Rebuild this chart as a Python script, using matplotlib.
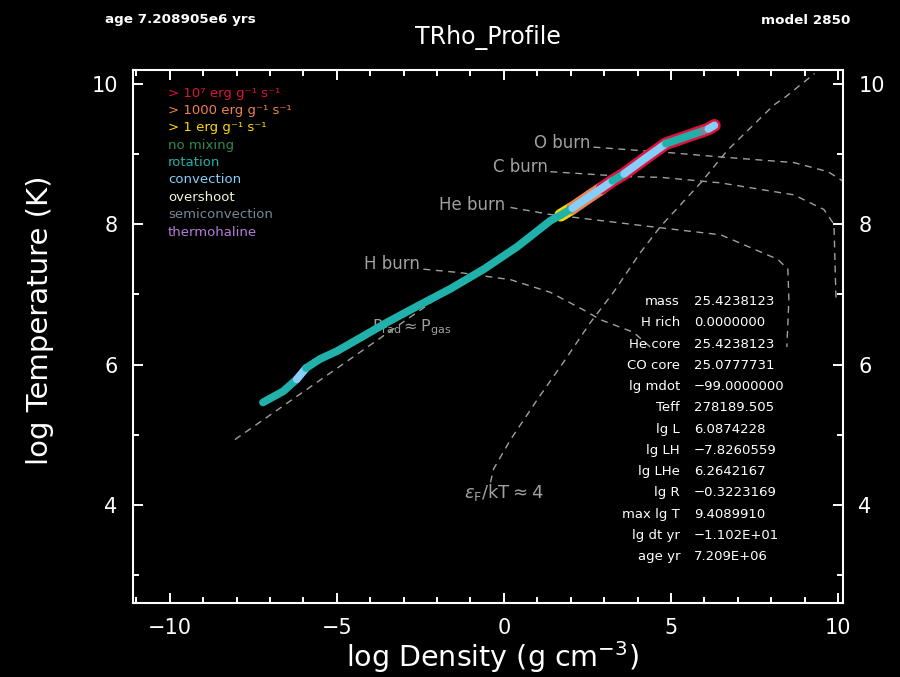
import numpy as np
import matplotlib
matplotlib.use('Agg')
import matplotlib.pyplot as plt
from matplotlib.ticker import MultipleLocator

# ---------------- data ----------------
# stellar profile (log Rho, log T); mix / burn describe the segment starting at each point
prof_logRho = [-7.21, -6.60, -6.20, -5.92, -5.50, -5.00, -4.30, -3.50, -2.60, -1.60,
               -0.60, 0.40, 1.39, 1.70, 2.05, 2.60, 2.95, 3.25, 3.60, 4.20,
               4.85, 5.40, 5.95, 6.12, 6.30]
prof_logT = [5.46, 5.62, 5.79, 5.95, 6.08, 6.19, 6.38, 6.60, 6.83, 7.08,
             7.36, 7.68, 8.05, 8.13, 8.23, 8.41, 8.52, 8.62, 8.72, 8.93,
             9.15, 9.24, 9.33, 9.36, 9.41]
prof_mix = ['rot', 'rot', 'conv', 'rot', 'rot', 'rot', 'rot', 'rot', 'rot', 'rot',
            'rot', 'rot', 'rot', 'rot', 'conv', 'conv', 'conv', 'rot', 'conv', 'conv',
            'rot', 'rot', 'semi', 'conv', 'conv']
prof_burn = [0, 0, 0, 0, 0, 0, 0, 0, 0, 0,
             0, 0, 0, 1, 2, 2, 3, 3, 3, 3,
             3, 3, 3, 3, 3]

# reference lines
prad_logRho = [-8.05, -1.80]
prad_logT = [4.93, 7.01]

ef_logRho = [-0.40, -0.31, 0.20, 1.00, 1.78, 2.59, 3.28, 4.09, 4.69, 5.89, 6.70, 8.08, 8.44, 9.30]
ef_logT = [4.32, 4.51, 4.93, 5.50, 6.03, 6.60, 7.03, 7.60, 7.97, 8.59, 9.06, 9.70, 9.82, 10.15]

hburn_logRho = [-2.41, -1.30, 0.20, 1.39, 2.38, 2.89, 3.88, 4.50]
hburn_logT = [7.36, 7.31, 7.21, 7.03, 6.78, 6.64, 6.46, 6.20]

heburn_logRho = [0.20, 1.39, 4.69, 6.49, 8.20, 8.50, 8.53, 8.47]
heburn_logT = [8.24, 8.14, 7.95, 7.85, 7.50, 7.36, 6.93, 6.25]

cburn_logRho = [1.39, 3.70, 4.69, 6.49, 8.68, 9.58, 9.88, 9.94]
cburn_logT = [8.75, 8.68, 8.67, 8.59, 8.42, 8.21, 8.00, 6.93]

oburn_logRho = [2.68, 4.99, 6.49, 8.68, 9.70, 10.20]
oburn_logT = [9.10, 9.02, 8.96, 8.88, 8.75, 8.60]

legend_labels = ['> 10\u2077 erg g\u207b\u00b9 s\u207b\u00b9', '> 1000 erg g\u207b\u00b9 s\u207b\u00b9',
                 '> 1 erg g\u207b\u00b9 s\u207b\u00b9', 'no mixing', 'rotation', 'convection',
                 'overshoot', 'semiconvection', 'thermohaline']
legend_colors = ['#DC143C', '#F08050', '#FFD700', '#2E8B57', '#20B2AA', '#87CEFA',
                 '#F5F5DC', '#778899', '#B57EDC']

info_names = ['mass', 'H rich', 'He core', 'CO core', 'lg mdot', 'Teff', 'lg L', 'lg LH',
              'lg LHe', 'lg R', 'max lg T', 'lg dt yr', 'age yr']
info_values = ['25.4238123', '0.0000000', '25.4238123', '25.0777731', '\u221299.0000000',
               '278189.505', '6.0874228', '\u22127.8260559', '6.2642167', '\u22120.3223169',
               '9.4089910', '\u22121.102E+01', '7.209E+06']

mix_colors = {'none': '#2E8B57', 'rot': '#20B2AA', 'conv': '#87CEFA',
              'over': '#F5F5DC', 'semi': '#778899', 'thm': '#B57EDC'}
burn_colors = {1: '#FFD700', 2: '#F08050', 3: '#DC143C'}

# ---------------- figure ----------------
W, H = 900, 677
fig = plt.figure(figsize=(9, 6.77), dpi=100, facecolor='black')
ax = fig.add_axes([133 / W, 1 - 603 / H, (843 - 133) / W, (603 - 70) / H])
ax.set_facecolor('black')
ax.set_xlim(-11.1, 10.15)
ax.set_ylim(2.6, 10.2)

gray = '#A0A0A0'
dash = dict(color=gray, lw=1.0, ls=(0, (5, 4)))
ax.plot(prad_logRho, prad_logT, **dash)
ax.plot(ef_logRho, ef_logT, **dash)
ax.plot(hburn_logRho, hburn_logT, **dash)
ax.plot(heburn_logRho, heburn_logT, **dash)
ax.plot(cburn_logRho, cburn_logT, **dash)
ax.plot(oburn_logRho, oburn_logT, **dash)

lab = dict(color=gray, fontsize=12)
ax.text(2.59, 9.16, 'O burn', ha='right', va='center', **lab)
ax.text(1.33, 8.82, 'C burn', ha='right', va='center', **lab)
ax.text(0.05, 8.28, 'He burn', ha='right', va='center', **lab)
ax.text(-2.50, 7.43, 'H burn', ha='right', va='center', **lab)
ax.text(-3.94, 6.48, r'P$_{\rm rad}$$\approx$P$_{\rm gas}$', ha='left', va='baseline',
        color=gray, fontsize=11.5)
ax.text(-1.19, 4.18, r'$\epsilon_{\rm F}$/kT$\approx$4', ha='left', va='center',
        color=gray, fontsize=13)


def runs(keys):
    out = []
    start = 0
    for i in range(1, len(keys)):
        if keys[i] != keys[start]:
            out.append((start, i, keys[start]))
            start = i
    out.append((start, len(keys) - 1, keys[start]))
    return out


xs = np.array(prof_logRho)
ys = np.array(prof_logT)
for s, e, b in runs(prof_burn[:-1] + [prof_burn[-2]]):
    if b > 0:
        ax.plot(xs[s:e + 1], ys[s:e + 1], color=burn_colors[b], lw=9.2,
                solid_capstyle='round', solid_joinstyle='round', zorder=3)
for s, e, m in runs(prof_mix[:-1] + [prof_mix[-2]]):
    ax.plot(xs[s:e + 1], ys[s:e + 1], color=mix_colors[m], lw=5.6,
            solid_capstyle='round', solid_joinstyle='round', zorder=4)

# axes styling
for sp in ax.spines.values():
    sp.set_color('white')
    sp.set_linewidth(1.5)
ax.xaxis.set_major_locator(MultipleLocator(5))
ax.xaxis.set_minor_locator(MultipleLocator(1))
ax.yaxis.set_major_locator(MultipleLocator(2))
ax.yaxis.set_minor_locator(MultipleLocator(1))
ax.tick_params(which='both', direction='in', top=True, right=True, labelright=True,
               color='white', labelcolor='white', width=1.4, labelsize=15)
ax.tick_params(which='major', length=7.5)
ax.tick_params(which='minor', length=4.3)
ax.tick_params(axis='x', pad=11)
ax.tick_params(axis='y', pad=11)
ax.xaxis.set_major_formatter(matplotlib.ticker.FuncFormatter(
    lambda v, p: ('\u2212%d' % -v) if v < 0 else '%d' % v))

fig.text(492 / W, 1 - 657 / H, r'log Density (g cm$^{-3}$)', color='white', fontsize=20.5,
         ha='center', va='center')
fig.text(40 / W, 1 - 320 / H, 'log Temperature (K)', color='white', fontsize=21,
         ha='center', va='center', rotation=90)
fig.text(488 / W, 1 - 37 / H, 'TRho_Profile', color='white', fontsize=17,
         ha='center', va='center')
fig.text(105 / W, 1 - 20 / H, 'age 7.208905e6 yrs', color='white', fontsize=9.7,
         fontweight='bold', ha='left', va='center')
fig.text(850 / W, 1 - 20 / H, 'model 2850', color='white', fontsize=9.7,
         fontweight='bold', ha='right', va='center')

for i, (t, c) in enumerate(zip(legend_labels, legend_colors)):
    fig.text(168 / W, 1 - (93 + 17.4 * i) / H, t, color=c, fontsize=9.5, ha='left', va='center')

for i, (n, v) in enumerate(zip(info_names, info_values)):
    y = 1 - (301.7 + 21.25 * i) / H
    fig.text(680 / W, y, n, color='white', fontsize=9.5, ha='right', va='center')
    fig.text(694 / W, y, v, color='white', fontsize=9.5, ha='left', va='center')

fig.savefig('out.png', dpi=100, facecolor='black')
